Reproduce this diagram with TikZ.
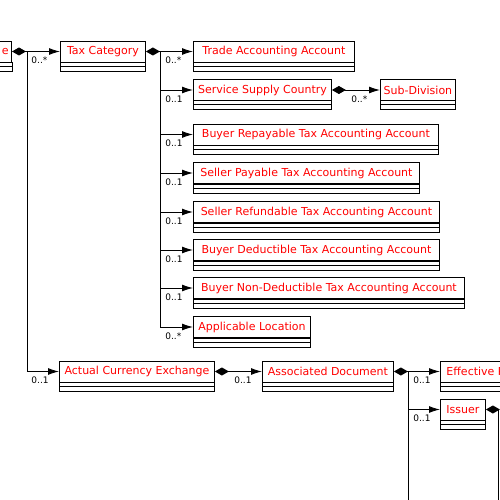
\documentclass[tikz,border=0pt]{standalone}
\usepackage{fontspec}
\setmainfont{DejaVu Sans}
\usetikzlibrary{arrows.meta,positioning}
\tikzset{
        classname/.style={draw, line width=0.9pt, rectangle, text=red, font=\fontsize{11}{13}\selectfont, minimum height=21pt, inner xsep=3pt, inner ysep=0pt, anchor=west},
        mult/.style={font=\fontsize{9}{10}\selectfont, anchor=north west, inner sep=0pt, xshift=4pt, yshift=-5pt},
        owns/.style={line width=0.9pt, {Diamond[length=14pt,width=8pt]}-},
        refs/.style={line width=0.9pt, -{Latex[length=11pt,width=7pt]}}
}
\newcommand{\compartments}[1]{%
  \draw[line width=0.9pt] (#1.south west) rectangle ([yshift=-9pt]#1.south east);
  \draw[line width=0.9pt] ([yshift=-4pt]#1.south west) -- ([yshift=-4pt]#1.south east);
}

\begin{document}
\begin{tikzpicture}[x=1pt,y=-1pt]
            \useasboundingbox (0,0) rectangle (500,500);
            \clip (0,0) rectangle (500,500);

            % classes
            \node[classname, anchor=east, text width=50pt, align=right] (TradeTax) at (12,51.5) {e};
            \node[classname, minimum width=85pt] (TaxCategory) at (60,51.5) {Tax Category};
            \node[classname, minimum width=161pt] (TradeAccountingAccount) at (193,51.5) {Trade Accounting Account};
            \node[classname, minimum width=138pt] (ServiceSupplyCountry) at (193,90) {Service Supply Country};
            \node[classname, minimum width=75pt] (SubDivision) at (380,90) {Sub-Division};
            \node[classname, minimum width=245pt] (BuyerRepayable) at (193,134.5) {Buyer Repayable Tax Accounting Account};
            \node[classname, minimum width=226pt] (SellerPayable) at (193,173) {Seller Payable Tax Accounting Account};
            \node[classname, minimum width=246pt] (SellerRefundable) at (193,212) {Seller Refundable Tax Accounting Account};
            \node[classname, minimum width=246pt] (BuyerDeductible) at (193,250) {Buyer Deductible Tax Accounting Account};
            \node[classname, minimum width=271pt] (BuyerNonDeductible) at (193,288) {Buyer Non-Deductible Tax Accounting Account};
            \node[classname, minimum width=117pt] (ApplicableLocation) at (193,327) {Applicable Location};
            \node[classname, minimum width=155pt] (ActualCurrencyExchange) at (59,371.5) {Actual Currency Exchange};
            \node[classname, minimum width=131pt] (AssociatedDocument) at (262,371.5) {Associated Document};
            \node[classname, inner xsep=6pt] (EffectivePeriod) at (440,371.5) {Effective Period};
            \node[classname, minimum width=45pt] (Issuer) at (440,409.5) {Issuer};

            \foreach \c in {TradeTax,TaxCategory,TradeAccountingAccount,ServiceSupplyCountry,SubDivision,BuyerRepayable,SellerPayable,SellerRefundable,BuyerDeductible,BuyerNonDeductible,ApplicableLocation,ActualCurrencyExchange,AssociatedDocument,EffectivePeriod,Issuer}
                {\compartments{\c}}

            % junctions
            \coordinate (TradeTaxBus) at ([xshift=15pt]TradeTax.east);
            \coordinate (TaxCategoryBus) at ([xshift=15pt]TaxCategory.east);
            \coordinate (ServiceBus) at ([xshift=15pt]ServiceSupplyCountry.east);
            \coordinate (CurrencyBus) at ([xshift=15pt]ActualCurrencyExchange.east);
            \coordinate (DocumentBus) at ([xshift=15pt]AssociatedDocument.east);
            \coordinate (DocumentEnd) at (DocumentBus |- 0,510);
            \coordinate (IssuerBus) at (498,409.5);
            \coordinate (IssuerEnd) at (IssuerBus |- 0,510);

            \draw[owns] (TradeTax.east) -- (TradeTaxBus);
            \draw[refs] (TradeTaxBus) |- node[mult] {0..*} (TaxCategory.west);
            \draw[refs] (TradeTaxBus) |- node[mult] {0..1} (ActualCurrencyExchange.west);

            \draw[owns] (TaxCategory.east) -- (TaxCategoryBus);
            \draw[refs] (TaxCategoryBus) |- node[mult] {0..*} (TradeAccountingAccount.west);
            \draw[refs] (TaxCategoryBus) |- node[mult] {0..1} (ServiceSupplyCountry.west);
            \draw[refs] (TaxCategoryBus) |- node[mult] {0..1} (BuyerRepayable.west);
            \draw[refs] (TaxCategoryBus) |- node[mult] {0..1} (SellerPayable.west);
            \draw[refs] (TaxCategoryBus) |- node[mult] {0..1} (SellerRefundable.west);
            \draw[refs] (TaxCategoryBus) |- node[mult] {0..1} (BuyerDeductible.west);
            \draw[refs] (TaxCategoryBus) |- node[mult] {0..1} (BuyerNonDeductible.west);
            \draw[refs] (TaxCategoryBus) |- node[mult] {0..*} (ApplicableLocation.west);

            \draw[owns] (ServiceSupplyCountry.east) -- (ServiceBus);
            \draw[refs] (ServiceBus) |- node[mult] {0..*} (SubDivision.west);

            \draw[owns] (ActualCurrencyExchange.east) -- (CurrencyBus);
            \draw[refs] (CurrencyBus) |- node[mult] {0..1} (AssociatedDocument.west);

            \draw[owns] (AssociatedDocument.east) -- (DocumentBus);
            \draw[refs] (DocumentBus) |- node[mult] {0..1} (EffectivePeriod.west);
            \draw[refs] (DocumentBus) |- node[mult] {0..1} (Issuer.west);
            \draw[line width=0.9pt] (DocumentBus) -- (DocumentEnd);

            \draw[owns] (Issuer.east) -- (IssuerBus);
            \draw[line width=0.9pt] (IssuerBus) -- (IssuerEnd);
\end{tikzpicture}
\end{document}
